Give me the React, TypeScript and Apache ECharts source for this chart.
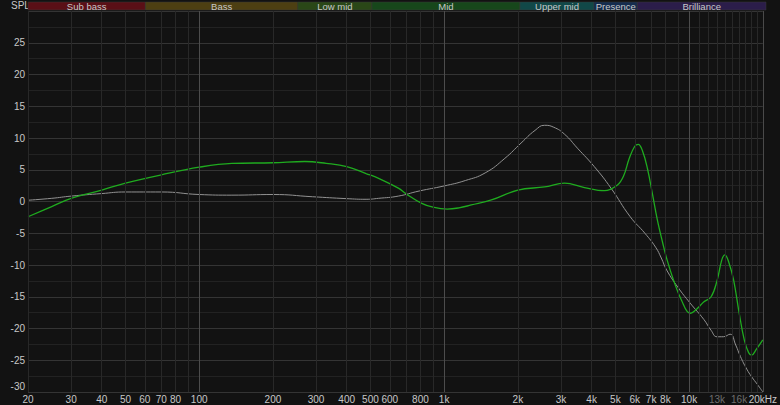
import React, { useEffect, useRef } from "react";
import * as echarts from "echarts";

const targetFreq = [20, 25, 30, 40, 50, 70, 100, 136, 200, 290, 400, 480, 540, 650, 790, 1000, 1220, 1470, 1770, 2060, 2350, 2570, 2800, 3100, 3500, 4100, 4800, 5750, 6600, 7300, 7700, 8100, 9000, 10100, 11500, 12300, 13000, 13800, 14700, 15500, 16200, 17200, 18000, 19000, 20000];
const targetDb = [0.2, 0.5, 0.85, 1.25, 1.5, 1.5, 1.1, 1.0, 1.1, 0.75, 0.45, 0.35, 0.5, 0.85, 1.65, 2.45, 3.3, 4.5, 6.8, 9.2, 11.2, 12.0, 11.7, 10.6, 8.4, 5.5, 2.1, -2.4, -5.0, -7.2, -8.9, -10.8, -13.5, -16.0, -18.6, -20.3, -21.3, -21.3, -20.9, -22.6, -24.4, -26.4, -27.6, -28.8, -30];

const measFreq = [20, 25, 30, 40, 50, 70, 100, 136, 200, 270, 330, 400, 480, 540, 650, 700, 810, 900, 1030, 1150, 1290, 1560, 2000, 2570, 3100, 3740, 4510, 5100, 5400, 5700, 6000, 6200, 6450, 6760, 7100, 7420, 7800, 8130, 8640, 9300, 10100, 10700, 11500, 12300, 13000, 13600, 14000, 14500, 15200, 16000, 16800, 17500, 18000, 18800, 20000];
const measDb = [-2.4, -0.8, 0.5, 1.8, 2.9, 4.2, 5.4, 6.0, 6.1, 6.3, 6.0, 5.5, 4.4, 3.65, 2.1, 1.2, -0.3, -0.9, -1.2, -1.0, -0.55, 0.24, 1.8, 2.3, 2.9, 2.2, 1.7, 2.6, 4.0, 6.8, 8.7, 9.0, 8.0, 5.2, 1.0, -2.9, -6.5, -9.2, -12.4, -15.5, -17.6, -17.0, -15.8, -15.0, -12.5, -9.2, -8.4, -9.5, -12.4, -17.5, -21.8, -23.8, -24.2, -23.3, -21.8];

const bandNames = ["Sub bass", "Bass", "Low mid", "Mid", "Upper mid", "Presence", "Brilliance"];
const bandEdges = [20, 60, 250, 500, 2000, 4000, 6000, 20000];
const bandColors = ["#5a0f16", "#4d3f12", "#2a4717", "#17471b", "#114848", "#142c4e", "#2b1d4a"];

const gridFreqs = [20, 30, 40, 50, 60, 70, 80, 90, 100, 200, 300, 400, 500, 600, 700, 800, 900, 1000, 2000, 3000, 4000, 5000, 6000, 7000, 8000, 9000, 10000, 11000, 12000, 13000, 14000, 15000, 16000, 17000, 18000, 19000, 20000];
const majorFreqs = [100, 1000, 10000];
const labelFreqs = [20, 30, 40, 50, 60, 70, 80, 100, 200, 300, 400, 500, 600, 800, 1000, 2000, 3000, 4000, 5000, 6000, 7000, 8000, 10000, 13000, 16000, 20000];
const dimLabels = [13000, 16000];

function fmtFreq(v: number): string {
  if (v >= 20000) return "20kHz";
  if (v >= 1000) return Math.round(v / 1000) + "k";
  return String(Math.round(v));
}

export default function App() {
  const ref = useRef<HTMLDivElement>(null);
  useEffect(() => {
    if (!ref.current) return;
    const chart = echarts.init(ref.current, undefined, { renderer: "svg" });
    const font = "Liberation Sans, Arial, sans-serif";
    const option: any = {
      animation: false,
      backgroundColor: "#121212",
      textStyle: { fontFamily: font },
      grid: [
        { left: 28, right: 14, top: 11, bottom: 13, show: false },
        { left: 28, right: 14, top: 2, height: 8, show: false },
      ],
      xAxis: [
        {
          type: "log",
          logBase: 10,
          min: 20,
          max: 20000,
          gridIndex: 0,
          axisLine: { show: false },
          axisTick: { show: false },
          splitLine: { show: false },
          minorSplitLine: { show: false },
          axisLabel: {
            show: true,
            customValues: labelFreqs,
            margin: 2,
            fontSize: 10,
            fontFamily: font,
            color: (v: number) => (dimLabels.indexOf(Math.round(v)) >= 0 ? "#6e6e6e" : "#c8c8c8"),
            formatter: (v: number) => fmtFreq(v),
            showMinLabel: true,
            showMaxLabel: true,
            hideOverlap: false,
          },
        },
        {
          type: "log",
          logBase: 10,
          min: 20,
          max: 20000,
          gridIndex: 1,
          show: false,
        },
      ],
      yAxis: [
        {
          type: "value",
          min: -30,
          max: 30,
          interval: 5,
          gridIndex: 0,
          axisLine: { show: false },
          axisTick: { show: false },
          axisLabel: {
            color: "#c8c8c8",
            fontSize: 10,
            fontFamily: font,
            margin: 3,
            formatter: (v: number) => (v === 30 ? "" : v === -30 ? "{b|-30}" : String(v)),
            rich: { b: { color: "#c8c8c8", fontSize: 10, fontFamily: font, padding: [0, 0, 12, 0] } },
          },
          splitLine: { show: true, lineStyle: { color: "#343434", width: 1 } },
          minorTick: { show: false, splitNumber: 2 },
          minorSplitLine: { show: true, lineStyle: { color: "#222222", width: 1 } },
        },
        { type: "value", min: 0, max: 1, gridIndex: 1, show: false },
      ],
      graphic: [
        {
          type: "text",
          left: 11,
          top: 0,
          style: { text: "SPL", fill: "#c8c8c8", fontSize: 10, fontFamily: font },
        },
      ],
      series: [
        {
          type: "line",
          name: "grid",
          xAxisIndex: 0,
          yAxisIndex: 0,
          data: [],
          silent: true,
          markLine: {
            silent: true,
            symbol: ["none", "none"],
            label: { show: false },
            animation: false,
            data: gridFreqs.map((f) => ({
              xAxis: f,
              lineStyle: {
                type: "solid",
                width: 1,
                color: f === 20000 ? "#4a4a4a" : majorFreqs.indexOf(f) >= 0 ? "#4c4c4c" : "#282828",
              },
            })),
          },
        },
        {
          type: "line",
          name: "bands",
          xAxisIndex: 1,
          yAxisIndex: 1,
          data: [],
          silent: true,
          markArea: {
            silent: true,
            animation: false,
            data: bandNames.map((n, i) => [
              {
                name: n,
                xAxis: bandEdges[i],
                itemStyle: { color: bandColors[i], borderColor: "#3a3a3a", borderWidth: 0.5 },
                label: {
                  show: true,
                  position: "inside",
                  color: "#c8c8c8",
                  fontSize: 9.5,
                  fontFamily: font,
                },
              },
              { xAxis: bandEdges[i + 1] },
            ]),
          },
        },
        {
          type: "line",
          name: "Target",
          xAxisIndex: 0,
          yAxisIndex: 0,
          data: targetFreq.map((f, i) => [f, targetDb[i]]),
          showSymbol: false,
          smooth: 0.5,
          lineStyle: { color: "#929292", width: 1 },
          z: 3,
        },
        {
          type: "line",
          name: "Measurement",
          xAxisIndex: 0,
          yAxisIndex: 0,
          data: measFreq.map((f, i) => [f, measDb[i]]),
          showSymbol: false,
          smooth: 0.4,
          lineStyle: { color: "#1fab1f", width: 1.3 },
          z: 4,
        },
      ],
    };
    chart.setOption(option);
    return () => chart.dispose();
  }, []);
  return (
    <div
      ref={ref}
      style={{ position: "absolute", left: 0, top: 0, width: 780, height: 405, background: "#121212" }}
    />
  );
}
